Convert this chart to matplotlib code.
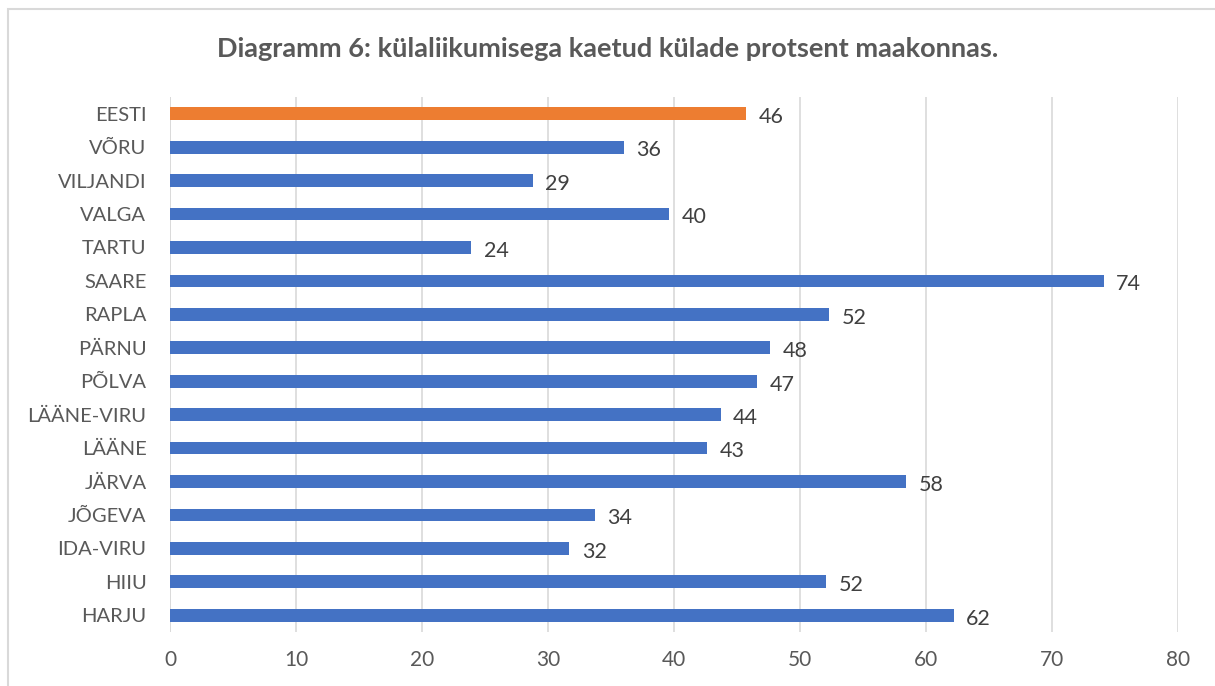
import matplotlib.pyplot as plt
from matplotlib.patches import Rectangle

# maakonnad alt üles (nagu Exceli joonisel)
maakonnad = ["HARJU", "HIIU", "IDA-VIRU", "JÕGEVA", "JÄRVA", "LÄÄNE", "LÄÄNE-VIRU",
             "PÕLVA", "PÄRNU", "RAPLA", "SAARE", "TARTU", "VALGA", "VILJANDI",
             "VÕRU", "EESTI"]
protsent = [62.2, 52.1, 31.7, 33.7, 58.4, 42.6, 43.7,
            46.6, 47.6, 52.3, 74.1, 23.9, 39.6, 28.8,
            36.0, 45.7]
varvid = ["#4472C4"] * 15 + ["#ED7D31"]
x_ticks = [0, 10, 20, 30, 40, 50, 60, 70, 80]

plt.rcParams['font.family'] = ['Lato', 'DejaVu Sans']

fig = plt.figure(figsize=(12.15, 6.86), dpi=100)
ax = fig.add_axes([170 / 1215, 1 - 632 / 686, (1178 - 170) / 1215, (632 - 97) / 686])

y = list(range(len(maakonnad)))
ax.barh(y, protsent, height=0.38, color=varvid, zorder=3)
for yy, v in zip(y, protsent):
    ax.text(v + 1.0, yy - 0.1, f"{round(v):d}", va='center', ha='left',
            fontsize=15.5, color='#404040')

ax.set_xlim(0, 80)
ax.set_ylim(-0.5, len(maakonnad) - 0.5)
ax.set_xticks(x_ticks)
ax.set_yticks(y)
ax.set_yticklabels(maakonnad)
ax.grid(axis='x', color='#D9D9D9', linewidth=1.2, zorder=0)
ax.axvline(0, color='#D9D9D9', linewidth=1.2, zorder=1)
for s in ax.spines.values():
    s.set_visible(False)
ax.tick_params(axis='both', length=0, labelcolor='#595959')
ax.tick_params(axis='y', labelsize=14.5, pad=17)
ax.tick_params(axis='x', labelsize=15, pad=13)

fig.text(0.5, 1 - 49 / 686, "Diagramm 6: külaliikumisega kaetud külade protsent maakonnas.",
         ha='center', va='center', fontsize=19.5, fontweight='bold', color='#595959')

# diagrammi raam
fig.patches.append(Rectangle((8 / 1215, -0.1), 1.2, 1 - 9 / 686 + 0.1,
                             transform=fig.transFigure, fill=False,
                             edgecolor='#D9D9D9', linewidth=1.5))

fig.savefig("out.png", dpi=100)
